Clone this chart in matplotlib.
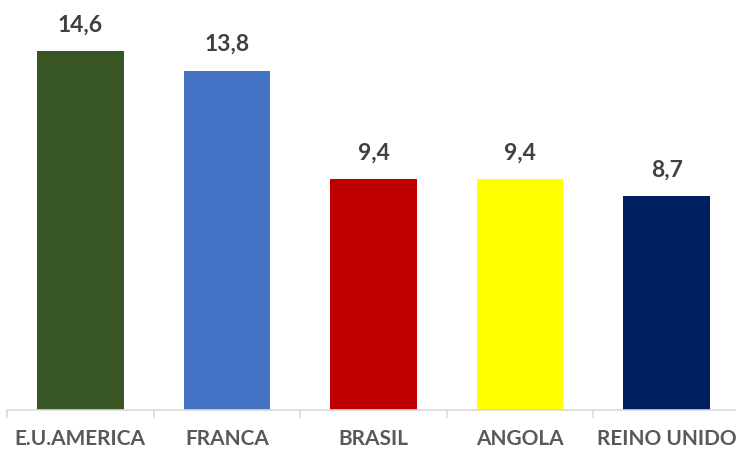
import matplotlib.pyplot as plt
from matplotlib.ticker import FixedLocator

countries = ["E.U.AMERICA", "FRANCA", "BRASIL", "ANGOLA", "REINO UNIDO"]
values = [14.6, 13.8, 9.4, 9.4, 8.7]
colors = ["#375623", "#4472C4", "#C00000", "#FFFF00", "#002060"]

plt.rcParams['font.family'] = ['Lato', 'DejaVu Sans']

fig = plt.figure(figsize=(7.36, 4.52), dpi=100)
ax = fig.add_axes([7 / 736, 41 / 452, 733 / 736, 411 / 452])

x = range(len(countries))
bars = ax.bar(x, values, width=0.59, color=colors)

for b, v in zip(bars, values):
    ax.annotate(f"{v:.1f}".replace(".", ","),
                (b.get_x() + b.get_width() / 2, b.get_height()),
                xytext=(0, 12), textcoords="offset points",
                ha="center", va="bottom", fontsize=16.5, fontweight="bold",
                color="#404040")

ax.set_xlim(-0.5, len(countries) - 0.5)
ax.set_ylim(0, 16.72)
ax.set_xticks(list(x))
ax.set_xticklabels(countries, fontsize=15, fontweight="bold", color="#595959")
ax.tick_params(axis="x", which="major", length=0, pad=13)
ax.xaxis.set_minor_locator(FixedLocator([i - 0.5 for i in range(len(countries) + 1)]))
ax.tick_params(axis="x", which="minor", length=6, color="#D9D9D9", width=1.2)
ax.set_yticks([])

for s in ["top", "right", "left"]:
    ax.spines[s].set_visible(False)
ax.spines["bottom"].set_color("#D9D9D9")
ax.spines["bottom"].set_linewidth(1.2)

fig.savefig("out.png", dpi=100)
